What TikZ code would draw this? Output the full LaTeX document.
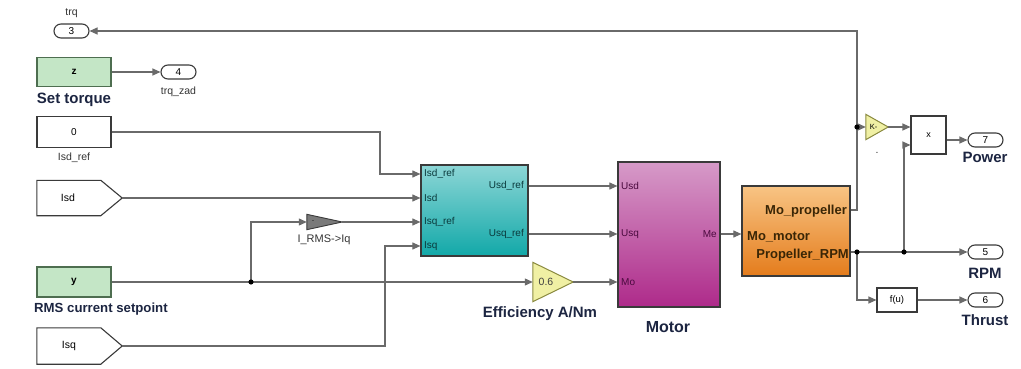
\documentclass[tikz,border=0pt]{standalone}
\usepackage{fontspec}
\setmainfont{Liberation Sans}
\usetikzlibrary{arrows.meta,calc}
\definecolor{wirec}{HTML}{6A6A6A}
\definecolor{edgec}{HTML}{3A3A3A}
\definecolor{greenf}{HTML}{C4E6C6}
\definecolor{greend}{HTML}{4E6E50}
\definecolor{tealtop}{HTML}{8CD6D6}
\definecolor{tealbot}{HTML}{12A8A8}
\definecolor{tealtxt}{HTML}{0A3A3C}
\definecolor{magtop}{HTML}{D69AC8}
\definecolor{magbot}{HTML}{AE2A8A}
\definecolor{magtxt}{HTML}{4A0A3E}
\definecolor{orntop}{HTML}{F8C484}
\definecolor{ornbot}{HTML}{E47C1C}
\definecolor{orntxt}{HTML}{3A2606}
\definecolor{yelf}{HTML}{F0F0A4}
\definecolor{yeld}{HTML}{8A8A40}
\definecolor{grayf}{HTML}{7A7A7A}
\definecolor{navy}{HTML}{1C2541}
\definecolor{labc}{HTML}{333333}
\begin{document}
\begin{tikzpicture}[x=1pt,y=-1pt,
  wire/.style={draw=wirec, line width=1.1pt},
  arr/.style={wire, -{Triangle[length=8pt,width=7pt]}},
  blk/.style={draw=edgec, line width=1.1pt, inner sep=0pt, rectangle, fill=white},
  greenblk/.style={blk, fill=greenf, draw=greend, font=\fontsize{10}{12}\selectfont\bfseries},
  outp/.style={blk, rounded corners=7pt, minimum width=35pt, minimum height=14pt, font=\fontsize{10}{12}\selectfont},
  bname/.style={font=\fontsize{15}{17}\selectfont\bfseries, text=navy, inner sep=0pt},
  lab/.style={font=\fontsize{10.5}{12}\selectfont, text=labc, inner sep=0pt},
  tport/.style={font=\fontsize{10}{12}\selectfont, text=tealtxt, inner sep=0pt},
  mport/.style={font=\fontsize{10}{12}\selectfont, text=magtxt, inner sep=0pt},
  oport/.style={font=\fontsize{13}{15}\selectfont\bfseries, text=orntxt, inner sep=0pt},
  dot/.style={fill=black}
]
\useasboundingbox (0,0) rectangle (1021,369);

% ---------- left column ----------
\node[outp] (out3) at (71.5,31) {3};
\node[lab] at (71.5,13) {trq};

\node[greenblk, minimum width=74pt, minimum height=29pt] (z) at (74,72) {z};
\node[bname] at (74,100) {Set torque};
\node[outp] (out4) at (178.5,72) {4};
\node[lab] at (178.5,92) {trq\_zad};

\node[blk, minimum width=74pt, minimum height=31pt, font=\fontsize{10}{12}\selectfont] (c0) at (74,132) {0};
\node[lab] at (74,158) {Isd\_ref};

% Isd from-block (pentagon)
\node[inner sep=0pt, minimum width=85pt, minimum height=35pt] (isd) at (79.5,198) {};
\draw[edgec, line width=1.1pt, fill=white] (isd.north west) -- ++(64,0) -- (isd.east) -- ($(isd.south west)+(64,0)$) -- (isd.south west) -- cycle;
\node[font=\fontsize{10.5}{12}\selectfont, inner sep=0pt] at (68,198) {Isd};

\node[greenblk, minimum width=74pt, minimum height=30pt] (y) at (74,282) {y};
\node[bname, anchor=west, font=\fontsize{13.2}{15}\selectfont\bfseries] at (34,309) {RMS current setpoint};

% Isq from-block (pentagon)
\node[inner sep=0pt, minimum width=85pt, minimum height=36pt] (isq) at (79.5,346) {};
\draw[edgec, line width=1.1pt, fill=white] (isq.north west) -- ++(64,0) -- (isq.east) -- ($(isq.south west)+(64,0)$) -- (isq.south west) -- cycle;
\node[font=\fontsize{10.5}{12}\selectfont, inner sep=0pt] at (69,346) {Isq};

% ---------- I_RMS->Iq gain ----------
\node[inner sep=0pt, minimum width=35pt, minimum height=15pt] (girms) at (324.5,222) {};
\draw[fill=grayf, draw=edgec, line width=0.9pt] (girms.north west) -- (girms.east) -- (girms.south west) -- cycle;
\node[font=\fontsize{6}{6}\selectfont, text=black, inner sep=0pt] at (313,222) {-};
\node[lab, font=\fontsize{11}{12}\selectfont] at (324,240) {I\_RMS->Iq};

% ---------- teal controller ----------
\node[blk, top color=tealtop, bottom color=tealbot, draw=edgec, line width=1.2pt, minimum width=107pt, minimum height=91pt] (ctl) at (474.5,210.5) {};
\node[tport, anchor=west] at (424,174) {Isd\_ref};
\node[tport, anchor=west] at (424,198) {Isd};
\node[tport, anchor=west] at (424,222) {Isq\_ref};
\node[tport, anchor=west] at (424,246) {Isq};
\node[tport, anchor=east] at (524,186) {Usd\_ref};
\node[tport, anchor=east] at (524,234) {Usq\_ref};

% ---------- efficiency gain ----------
\node[inner sep=0pt, minimum width=40pt, minimum height=39pt] (geff) at (553,282) {};
\draw[fill=yelf, draw=yeld, line width=1pt] (geff.north west) -- (geff.east) -- (geff.south west) -- cycle;
\node[font=\fontsize{10.5}{12}\selectfont, text=black!75, inner sep=0pt] at (546,282) {0.6};
\node[bname] at (540,314) {Efficiency A/Nm};

% ---------- motor ----------
\node[blk, top color=magtop, bottom color=magbot, draw=edgec, line width=1.2pt, minimum width=102pt, minimum height=145pt] (motor) at (669,234.5) {};
\node[mport, anchor=west] at (621,186) {Usd};
\node[mport, anchor=west] at (621,234) {Usq};
\node[mport, anchor=west] at (621,282) {Mo};
\node[mport, anchor=east] at (717,234) {Me};
\node[bname, font=\fontsize{16}{18}\selectfont\bfseries] at (668,327) {Motor};

% ---------- propeller ----------
\node[blk, top color=orntop, bottom color=ornbot, draw=edgec, line width=1.2pt, minimum width=108pt, minimum height=90pt] (prop) at (796,231) {};
\node[oport, anchor=east] at (847,211) {Mo\_propeller};
\node[oport, anchor=west] at (747,237) {Mo\_motor};
\node[oport, anchor=east] at (849,255) {Propeller\_RPM};

% ---------- K- gain, product ----------
\node[inner sep=0pt, minimum width=22pt, minimum height=25pt] (gk) at (877,127) {};
\draw[fill=yelf, draw=yeld, line width=1pt] (gk.north west) -- (gk.east) -- (gk.south west) -- cycle;
\node[font=\fontsize{7.5}{8}\selectfont, inner sep=0pt] at (873.5,127) {K-};
\node[lab] at (877,153) {.};

\node[blk, minimum width=35pt, minimum height=38pt, font=\fontsize{9}{10}\selectfont] (prod) at (928.5,135) {x};
\node[outp] (out7) at (985.5,140) {7};
\node[bname] at (985,157) {Power};

\node[outp] (out5) at (985.5,252) {5};
\node[bname] at (985,273) {RPM};

\node[blk, minimum width=40pt, minimum height=24pt, font=\fontsize{9.5}{10}\selectfont] (fu) at (897,300) {f(u)};
\node[outp] (out6) at (985.5,300) {6};
\node[bname] at (985,320) {Thrust};

% ---------- junctions ----------
\coordinate (j1) at (251,282);
\coordinate (jk) at (857,127);
\coordinate (jr) at (857,252);
\coordinate (jp) at (904,252);

% ---------- connectors ----------
\draw[arr] (z.east) -- (out4.west);
\draw[arr] (c0.east) -- (380,132) -- (380,174) -- (ctl.west |- 0,174);
\draw[arr] (isd.east) -- (ctl.west |- 0,198);
\draw[wire] (y.east) -- (j1);
\draw[arr] (j1) -- (geff.west);
\draw[arr] (j1) -- (251,222) -- (girms.west);
\draw[arr] (girms.east) -- (ctl.west |- 0,222);
\draw[arr] (isq.east) -- (385,346) -- (385,246) -- (ctl.west |- 0,246);

\draw[arr] (ctl.east |- 0,186) -- (motor.west |- 0,186);
\draw[arr] (ctl.east |- 0,234) -- (motor.west |- 0,234);
\draw[arr] (geff.east) -- (motor.west |- 0,282);
\draw[arr] (motor.east |- 0,234) -- (prop.west |- 0,234);

\draw[arr] (prop.east |- 0,210) -- (857,210) -- (857,31) -- (out3.east);
\draw[arr] (jk) -- (gk.west);
\draw[arr] (gk.east) -- (prod.west |- 0,127);
\draw[arr] (prod.east |- 0,140) -- (out7.west);
\draw[arr] (prop.east |- 0,252) -- (out5.west);
\draw[arr] (jp) -- (904,145) -- (prod.west |- 0,145);
\draw[arr] (jr) -- (857,300) -- (fu.west);
\draw[arr] (fu.east) -- (out6.west);

\fill[dot] (j1) circle (2.6pt);
\fill[dot] (jk) circle (2.6pt);
\fill[dot] (jr) circle (2.6pt);
\fill[dot] (jp) circle (2.6pt);
\end{tikzpicture}
\end{document}
